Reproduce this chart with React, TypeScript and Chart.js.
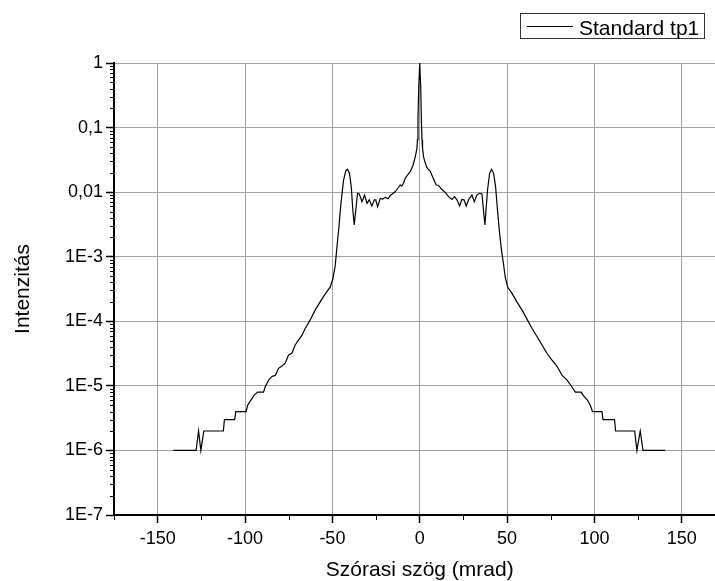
import React, { useEffect, useRef } from "react";
import { Chart, registerables } from "chart.js";

Chart.register(...registerables);

const FONT = '"Liberation Sans", Arial, sans-serif';

const SERIES_LABEL = "Standard tp1";
const X_TITLE = "Szórasi szög (mrad)";
const Y_TITLE = "Intenzitás";

const X_TICKS = [-150, -100, -50, 0, 50, 100, 150];
const X_MINOR_TICKS = [-175, -125, -75, -25, 25, 75, 125];
const Y_TICKS = [1e-7, 1e-6, 1e-5, 1e-4, 1e-3, 1e-2, 1e-1, 1];
const Y_TICK_LABELS = ["1E-7", "1E-6", "1E-5", "1E-4", "1E-3", "0,01", "0,1", "1"];

// Left half (negative scattering angles)
const leftAngle = [
  -141, -128, -126.6, -125.3, -123.6, -112.4, -111.8, -105.9, -105.3, -99.4,
  -98.5, -97.0, -94.7, -92.8, -89.4, -88.4, -86.5, -84.6, -82.7, -80.8,
  -78.9, -77.0, -75.1, -73.2, -71.3, -69.4, -67.4, -65.5, -62.7, -59.8,
  -57.0, -54.1, -51.2, -49.7, -48.4, -47.2, -46.3, -45.1, -43.6, -42.3,
  -41.3, -40.2, -39.2, -38.3, -37.5, -35.6, -34.6, -33.1, -31.6, -30.2,
  -28.9, -27.4, -26.0, -25.2, -24.1, -22.6, -21.2, -19.7, -18.1, -16.8,
  -14.0, -12.1, -11.2, -10.3, -9.3, -8.3, -7.0, -5.4, -3.8, -2.6,
  -1.6, -1.3, -1.0, -0.6, 0,
];
const leftIntensity = [
  1e-6, 1e-6, 2e-6, 1e-6, 2e-6, 2e-6, 3e-6, 3e-6, 4e-6, 4e-6,
  5e-6, 5.8e-6, 7.2e-6, 8e-6, 8e-6, 9.7e-6, 1.23e-5, 1.4e-5, 1.45e-5, 1.87e-5,
  2.03e-5, 2.25e-5, 3.0e-5, 3.2e-5, 4.3e-5, 5.1e-5, 6.1e-5, 7.8e-5, 1.05e-4, 1.5e-4,
  2.0e-4, 2.65e-4, 3.4e-4, 4.6e-4, 7.2e-4, 1.6e-3, 2.8e-3, 6.7e-3, 0.0154, 0.0215,
  0.0226, 0.0195, 0.0122, 5.3e-3, 3.1e-3, 9.6e-3, 9.4e-3, 7.1e-3, 9.0e-3, 6.7e-3,
  7.6e-3, 6.1e-3, 7.6e-3, 7.6e-3, 5.95e-3, 8.0e-3, 7.8e-3, 8.3e-3, 7.9e-3, 8.9e-3,
  0.0102, 0.0119, 0.0129, 0.0125, 0.0137, 0.0164, 0.0184, 0.0207, 0.0263, 0.035,
  0.048, 0.065, 0.14, 0.4, 1,
];

// Right half (positive scattering angles)
const rightAngle = [
  0.6, 0.9, 1.3, 1.6, 2.2, 2.7, 4.1, 6.0, 7.9, 9.4,
  10.6, 12.7, 14.6, 16.5, 18.4, 19.9, 21.3, 22.8, 24.1, 25.3,
  26.6, 28.0, 29.9, 31.2, 32.7, 34.2, 35.6, 37.3, 38.8, 40.0,
  41.1, 42.3, 43.4, 44.5, 45.7, 46.9, 48.0, 48.9, 50.3, 52.8,
  55.6, 58.5, 61.4, 64.2, 67.1, 70.0, 72.8, 75.7, 78.5, 81.4,
  84.3, 87.1, 89.0, 92.4, 93.8, 96.0, 97.6, 98.9, 104.3, 104.9,
  111.5, 112.1, 123.0, 124.3, 126.2, 127.8, 140.5,
];
const rightIntensity = [
  0.4, 0.14, 0.065, 0.048, 0.035, 0.031, 0.024, 0.021, 0.016, 0.0129,
  0.0128, 0.011, 9.9e-3, 8.5e-3, 7.7e-3, 8.5e-3, 7.6e-3, 6.1e-3, 7.7e-3, 7.6e-3,
  6.1e-3, 7.7e-3, 9.0e-3, 7.1e-3, 9.0e-3, 9.6e-3, 9.4e-3, 3.1e-3, 0.0108, 0.0195,
  0.0226, 0.0195, 0.0122, 5.3e-3, 2.3e-3, 1.2e-3, 7.5e-4, 4.9e-4, 3.4e-4, 2.7e-4,
  2.0e-4, 1.5e-4, 1.08e-4, 7.8e-5, 5.8e-5, 4.3e-5, 3.2e-5, 2.5e-5, 2.03e-5, 1.47e-5,
  1.23e-5, 9.7e-6, 8e-6, 8e-6, 7e-6, 6e-6, 5e-6, 4e-6, 4e-6, 3e-6,
  3e-6, 2e-6, 2e-6, 1e-6, 2e-6, 1e-6, 1e-6,
];

const decorPlugin = {
  id: "decor",
  afterDraw(chart: any) {
    const ctx: CanvasRenderingContext2D = chart.ctx;
    const xs = chart.scales.x;
    const ys = chart.scales.y;
    const area = chart.chartArea;
    ctx.save();
    // minor ticks
    ctx.strokeStyle = "#000";
    ctx.lineWidth = 1;
    ctx.beginPath();
    for (let i = 0; i < Y_TICKS.length - 1; i++) {
      for (let k = 2; k <= 9; k++) {
        const y = Math.round(ys.getPixelForValue(Y_TICKS[i] * k)) + 0.5;
        ctx.moveTo(area.left - 4, y);
        ctx.lineTo(area.left, y);
      }
    }
    for (const v of X_MINOR_TICKS) {
      const x = Math.round(xs.getPixelForValue(v)) + 0.5;
      ctx.moveTo(x, area.bottom);
      ctx.lineTo(x, area.bottom + 5);
    }
    ctx.stroke();

    // axis titles
    ctx.fillStyle = "#000";
    ctx.font = `21px ${FONT}`;
    ctx.textAlign = "center";
    ctx.textBaseline = "alphabetic";
    ctx.fillText(X_TITLE, xs.getPixelForValue(0), 576);
    ctx.save();
    ctx.translate(29, (area.top + area.bottom) / 2);
    ctx.rotate(-Math.PI / 2);
    ctx.fillText(Y_TITLE, 0, 0);
    ctx.restore();

    // legend
    ctx.strokeStyle = "#333";
    ctx.lineWidth = 1;
    ctx.strokeRect(520.5, 13.5, 184, 25);
    ctx.strokeStyle = "#000";
    ctx.beginPath();
    ctx.moveTo(527, 26.5);
    ctx.lineTo(573, 26.5);
    ctx.stroke();
    ctx.textAlign = "left";
    ctx.fillText(chart.data.datasets[0].label, 579, 35);
    ctx.restore();
  },
};

export default function App() {
  const canvasRef = useRef<HTMLCanvasElement | null>(null);

  useEffect(() => {
    const canvas = canvasRef.current;
    if (!canvas) return;
    const points = [
      ...leftAngle.map((x, i) => ({ x, y: leftIntensity[i] })),
      ...rightAngle.map((x, i) => ({ x, y: rightIntensity[i] })),
    ];
    const chart = new Chart(canvas, {
      type: "scatter",
      data: {
        datasets: [
          {
            label: SERIES_LABEL,
            data: points,
            showLine: true,
            borderColor: "#000",
            backgroundColor: "#000",
            borderWidth: 1.2,
            pointRadius: 0,
            tension: 0,
          },
        ],
      },
      plugins: [decorPlugin],
      options: {
        responsive: false,
        animation: false,
        layout: { padding: { top: 63, left: 0, right: 0, bottom: 0 } },
        plugins: { legend: { display: false }, tooltip: { enabled: false } },
        scales: {
          x: {
            type: "linear",
            min: -175,
            max: 169,
            afterBuildTicks: (scale: any) => {
              scale.ticks = X_TICKS.map((v) => ({ value: v }));
            },
            afterFit: (scale: any) => {
              scale.height = 66;
            },
            ticks: {
              font: { family: FONT, size: 18 },
              color: "#000",
              maxRotation: 0,
              autoSkip: false,
              padding: 5,
              callback: (v: any) => String(v),
            },
            grid: {
              color: "#a0a0a0",
              lineWidth: 1,
              tickLength: 8,
              tickColor: "#000",
              tickWidth: 1.5,
            },
            border: { display: true, color: "#000", width: 2 },
          },
          y: {
            type: "logarithmic",
            min: 1e-7,
            max: 1,
            afterBuildTicks: (scale: any) => {
              scale.ticks = Y_TICKS.map((v) => ({ value: v }));
            },
            afterFit: (scale: any) => {
              scale.width = 114;
            },
            ticks: {
              font: { family: FONT, size: 18 },
              color: "#000",
              autoSkip: false,
              padding: 3,
              callback: (_v: any, i: number) => Y_TICK_LABELS[i],
            },
            grid: {
              color: "#a0a0a0",
              lineWidth: 1,
              tickLength: 8,
              tickColor: "#000",
              tickWidth: 1.5,
            },
            border: { display: true, color: "#000", width: 2 },
          },
        },
      },
    });
    return () => chart.destroy();
  }, []);

  return (
    <div style={{ position: "absolute", left: 0, top: 0, width: 715, height: 581, background: "#fff" }}>
      <canvas ref={canvasRef} width={715} height={581} />
    </div>
  );
}
